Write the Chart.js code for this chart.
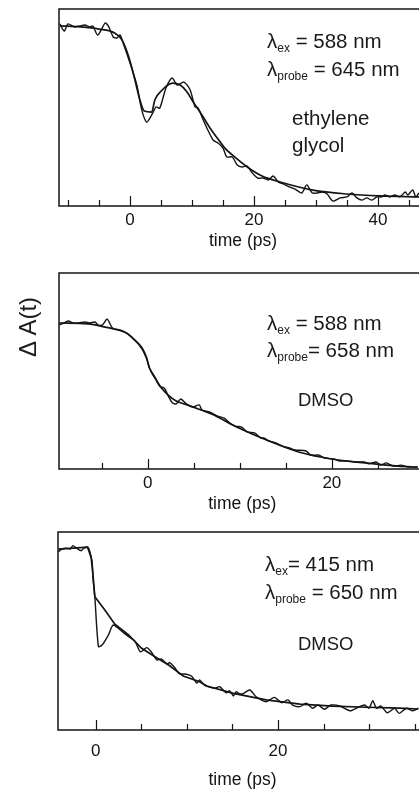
<!DOCTYPE html>
<html>
<head>
<meta charset="utf-8">
<script src="https://cdn.jsdelivr.net/npm/chart.js@4.4.1/dist/chart.umd.min.js"></script>
<style>
  html, body { margin:0; padding:0; background:#fff; width:419px; height:789px; overflow:hidden; }
  .panel { position:absolute; left:0; width:419px; overflow:hidden; }
  .txt { position:absolute; font-family:"Liberation Sans", Arial, sans-serif; font-size:20.5px; line-height:20px; color:#1a1a1a; white-space:nowrap; }
  .txt .s { font-size:12px; vertical-align:-4px; }
  .txt.sol { font-size:18.5px; }
  #ylab { position:absolute; left:28px; top:327px; transform:translate(-50%,-50%) rotate(-90deg); font-family:"Liberation Sans", Arial, sans-serif; font-size:24px; color:#1a1a1a; white-space:nowrap; }
</style>
</head>
<body>
<div class="panel" style="top:0px;height:263px"><canvas id="c1" width="427" height="263"></canvas></div>
<div class="panel" style="top:263px;height:263px"><canvas id="c2" width="427" height="263"></canvas></div>
<div class="panel" style="top:526px;height:263px"><canvas id="c3" width="427" height="263"></canvas></div>

<div class="txt" style="left:267px;top:31px">λ<span class="s">ex</span> = 588 nm</div>
<div class="txt" style="left:267px;top:59px">λ<span class="s">probe</span> = 645 nm</div>
<div class="txt" style="left:292px;top:108px">ethylene</div>
<div class="txt" style="left:292px;top:135px">glycol</div>

<div class="txt" style="left:267px;top:313px">λ<span class="s">ex</span> = 588 nm</div>
<div class="txt" style="left:267px;top:340px">λ<span class="s">probe</span>= 658 nm</div>
<div class="txt sol" style="left:298px;top:390px">DMSO</div>

<div class="txt" style="left:265px;top:554px">λ<span class="s">ex</span>= 415 nm</div>
<div class="txt" style="left:265px;top:582px">λ<span class="s">probe</span> = 650 nm</div>
<div class="txt sol" style="left:298px;top:634px">DMSO</div>

<div id="ylab">Δ A(t)</div>

<script>
// ---------- Panel 1: ethylene glycol, λex 588, λprobe 645 ----------
const egDataT = [-11.3,-10.6,-10.0,-9.0,-8.1,-7.3,-6.5,-6.0,-5.2,-4.0,-3.5,-2.7,-2.1,-1.6,-1.0,0,1.1,1.9,2.7,3.5,4.2,4.8,5.8,6.8,7.6,8.7,9.7,10.5,11.0,11.6,12.4,13.4,14.2,15.0,15.6,16.5,17.3,18.1,18.9,19.7,20.6,21.5,22.3,23.1,23.9,24.7,25.8,26.6,27.7,28.5,29.4,30.2,31.0,31.8,32.7,33.9,35.0,35.8,36.6,37.4,38.2,39.0,39.8,40.6,41.1,41.9,42.7,43.5,44.4,44.8,45.6,46.1,46.6];
const egDataV = [92.4,88.8,92.4,90.9,91.4,91.9,90.9,91.4,86.8,92.9,91.4,85.8,85.3,86.8,81.7,72.6,61.4,48.7,42.6,46.2,50.3,49.7,59.9,65.0,61.4,62.9,58.9,50.3,49.7,45.2,39.6,33.5,32.0,29.4,24.9,24.9,20.8,19.8,20.3,16.8,14.2,14.2,13.2,15.2,12.2,11.2,9.6,8.6,6.6,10.7,6.6,6.6,7.1,6.1,2.5,4.1,4.6,6.6,4.1,3.0,4.1,3.0,4.6,4.6,5.6,4.6,5.6,4.6,7.1,5.6,8.1,4.6,6.6];
const egFitT = [-11.3,-8.0,-5.0,-2.5,-1.3,-0.3,0.6,1.6,2.3,3.5,4.0,5.2,6.1,6.9,8.1,9.2,10.2,11.6,12.9,14.2,15.3,16.5,18.9,21.3,24.2,29.5,35.0,40.3,46.6];
const egFitV = [91.4,90.9,89.8,87.8,84.3,76.6,66.5,53.8,48.2,47.7,53.8,58.9,61.4,62.4,61.4,57.9,52.8,46.2,39.6,34.0,29.4,25.9,19.8,15.2,12.2,8.1,6.1,5.1,4.6];

// ---------- Panel 2: DMSO, λex 588, λprobe 658 ----------
const dmso1DataT = [-9.6,-9.3,-8.6,-8.1,-7.5,-6.8,-6.3,-5.7,-5.4,-4.9,-4.4,-3.9,-3.6,-3.0,-2.3,-1.4,-0.6,-0.1,0.2,0.8,1.3,1.8,2.3,2.7,3.1,3.6,4.2,4.9,5.6,5.9,6.7,7.6,8.3,8.9,9.5,10.2,10.8,11.6,12.3,12.6,13.2,13.9,14.6,15.4,16.0,17.2,17.7,18.6,19.2,20.2,20.8,21.6,22.5,23.5,24.0,24.8,25.3,25.9,26.7,27.5,28.3,29.3];
const dmso1DataV = [73.5,74.0,75.5,74.5,74.5,75.0,74.5,75.0,73.5,73.5,76.5,72.4,71.4,70.9,69.4,65.8,61.2,56.1,51.5,46.9,42.3,41.3,36.7,33.7,33.2,35.7,33.2,31.6,32.7,30.1,29.1,27.0,26.0,23.5,21.9,21.4,18.9,18.4,15.8,15.8,14.3,13.3,11.7,10.7,9.7,9.2,7.1,7.1,5.6,5.1,4.1,4.1,3.6,3.6,2.6,3.6,2.0,3.1,1.5,2.0,1.0,1.0];
const dmso1FitT = [-9.6,-6.5,-4.6,-3.2,-2.3,-1.4,-0.6,-0.1,0.2,0.8,1.5,2.2,3.1,4.3,5.8,7.2,8.6,9.9,12.9,16.4,20.0,23.7,27.2,29.3];
const dmso1FitV = [74.5,74.0,72.4,70.9,69.4,65.8,61.7,56.6,51.5,46.4,41.3,37.8,34.7,32.7,30.1,27.6,24.0,20.9,14.8,8.7,5.1,3.1,1.5,1.0];

// ---------- Panel 3: DMSO, λex 415, λprobe 650 ----------
const dmso2DataT = [-4.1,-3.7,-3.2,-2.8,-2.5,-2.1,-1.6,-1.3,-0.9,-0.7,-0.4,-0.3,-0.1,0.3,0.7,1.4,1.9,2.7,3.5,4.3,4.9,5.6,6.1,6.7,7.2,7.8,8.1,8.7,9.2,9.8,10.5,11.1,11.4,11.9,12.3,13.1,13.6,14.3,14.7,15.1,15.4,15.7,16.1,16.9,17.6,18.7,19.6,20.4,21.1,21.6,22.4,23.1,23.8,24.4,25.1,25.8,26.8,27.9,28.8,29.5,30.0,30.4,30.8,31.3,32.0,32.8,33.3,34.1,34.8,35.4];
const dmso2DataV = [90.0,91.4,91.8,91.4,93.1,91.8,90.5,91.8,92.4,90.9,85.0,76.8,67.3,42.1,42.9,48.0,53.0,50.5,47.5,44.9,39.5,41.6,39.4,35.4,35.9,33.3,34.0,31.3,28.3,28.3,27.3,23.7,25.3,22.7,21.9,21.1,21.9,18.8,19.8,17.2,19.3,18.5,18.2,20.2,16.8,14.3,16.5,13.8,15.2,12.6,11.8,13.5,11.0,12.6,10.5,12.6,12.1,9.7,11.5,12.6,11.0,14.8,11.0,12.1,8.7,11.0,8.4,11.0,9.7,11.0];
const dmso2FitT = [-4.1,-0.9,-0.5,-0.3,-0.1,1.0,2.1,3.6,5.0,6.5,8.0,9.6,11.4,12.2,15.1,18.7,22.4,26.0,29.7,33.3,35.4];
const dmso2FitV = [91.4,92.4,87.0,78.3,67.3,60.6,53.4,48.0,41.4,37.0,32.8,27.3,24.4,22.2,18.5,15.2,13.1,12.1,11.5,11.0,10.6];

const TICK_LABELS = [0, 20, 40];
const FONT = "'Liberation Sans', Arial, sans-serif";
const INK = '#141414';

function pts(ts, vs) { return ts.map((t, i) => ({ x: t, y: vs[i] })); }

const framePlugin = {
  id: 'frame',
  afterDraw(chart) {
    const { ctx, chartArea: a } = chart;
    const xs = chart.scales.x;
    ctx.save();
    ctx.strokeStyle = INK;
    ctx.lineWidth = 1.5;
    ctx.beginPath();
    ctx.moveTo(a.right, a.top);
    ctx.lineTo(a.left, a.top);
    ctx.lineTo(a.left, a.bottom);
    ctx.lineTo(a.right, a.bottom);
    ctx.stroke();
    ctx.lineWidth = 1.2;
    xs.ticks.forEach(tk => {
      const px = Math.round(xs.getPixelForValue(tk.value)) + 0.5;
      const len = TICK_LABELS.includes(tk.value) ? 10 : 6;
      ctx.beginPath();
      ctx.moveTo(px, a.bottom);
      ctx.lineTo(px, a.bottom - len);
      ctx.stroke();
    });
    ctx.restore();
  }
};

function makeChart(id, cfg) {
  return new Chart(document.getElementById(id), {
    type: 'line',
    data: {
      datasets: [
        { data: pts(cfg.dataT, cfg.dataV), borderColor: INK, borderWidth: 1.4, pointRadius: 0, tension: 0.25, fill: false },
        { data: pts(cfg.fitT, cfg.fitV), borderColor: INK, borderWidth: 1.7, pointRadius: 0,
          cubicInterpolationMode: cfg.fitMode, tension: cfg.fitMode === 'monotone' ? 0.4 : 0, fill: false }
      ]
    },
    options: {
      responsive: false,
      animation: false,
      layout: { padding: { left: cfg.left, top: cfg.top, right: 0, bottom: 0 } },
      plugins: { legend: { display: false }, tooltip: { enabled: false } },
      scales: {
        x: {
          type: 'linear', min: cfg.min, max: cfg.max,
          grid: { display: false, drawTicks: true, tickLength: cfg.tickLen },
          border: { display: false },
          ticks: {
            stepSize: 5, includeBounds: false, autoSkip: false, maxRotation: 0, padding: 3,
            color: INK, font: { family: FONT, size: 17 },
            callback: v => TICK_LABELS.includes(v) ? String(v) : ''
          },
          title: { display: true, text: 'time (ps)', color: INK, font: { family: FONT, size: 17.5 }, padding: { top: 0, bottom: cfg.titlePad } },
          afterFit: s => { s.height = cfg.axisH; }
        },
        y: { display: false, min: 0, max: 100 }
      }
    },
    plugins: [framePlugin]
  });
}

// chart areas run slightly past the right edge of the 419px window, as in the reference
makeChart('c1', { dataT: egDataT, dataV: egDataV, fitT: egFitT, fitV: egFitV, fitMode: 'monotone',
  min: -11.45, max: 47.9, left: 59, top: 9, axisH: 57, tickLen: 1, titlePad: 11 });
makeChart('c2', { dataT: dmso1DataT, dataV: dmso1DataV, fitT: dmso1FitT, fitV: dmso1FitV, fitMode: 'monotone',
  min: -9.62, max: 30.16, left: 59, top: 10, axisH: 57, tickLen: 1, titlePad: 11 });
makeChart('c3', { dataT: dmso2DataT, dataV: dmso2DataV, fitT: dmso2FitT, fitV: dmso2FitV, fitMode: 'none',
  min: -4.14, max: 36.35, left: 58, top: 6, axisH: 59, tickLen: 8, titlePad: -2 });
</script>
</body>
</html>
